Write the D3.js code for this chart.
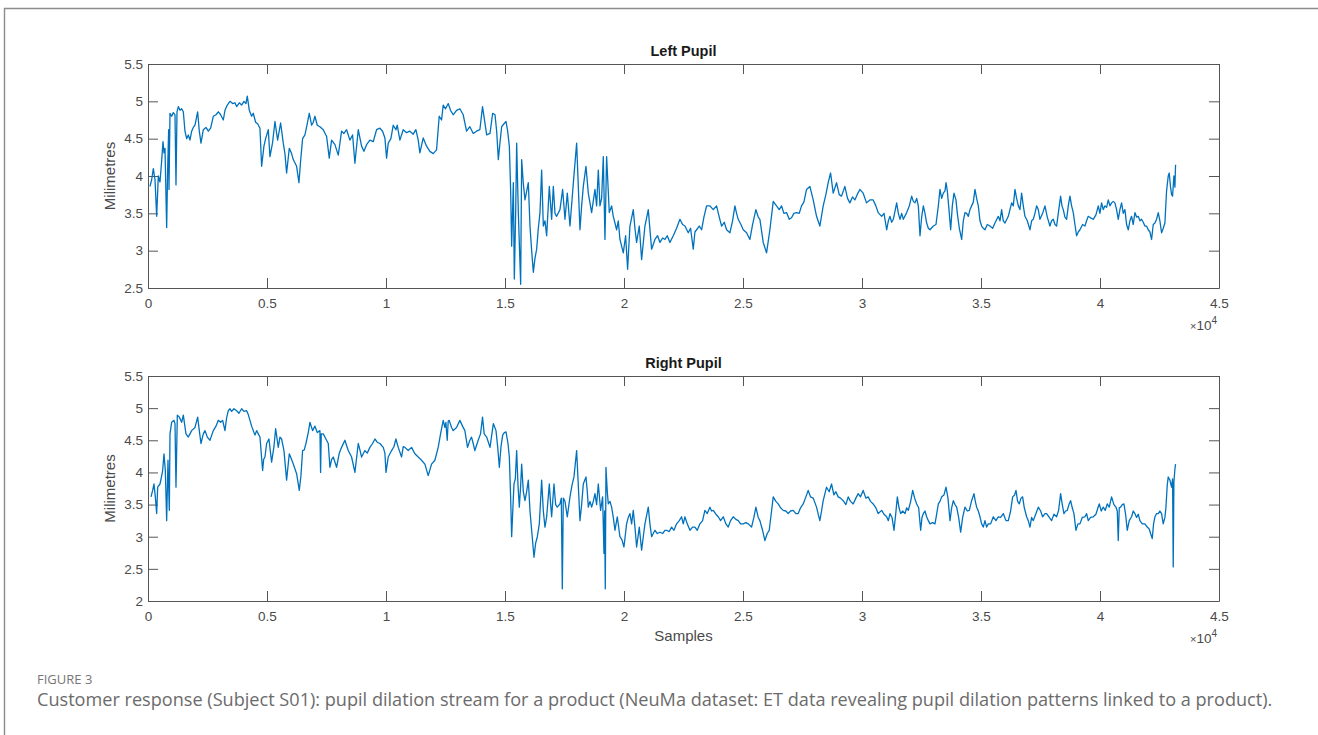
<!DOCTYPE html>
<html>
<head>
<meta charset="utf-8">
<script src="https://cdn.jsdelivr.net/npm/d3@7"></script>
<style>
body{margin:0;background:#fff;}
svg{display:block;}
</style>
</head>
<body>
<svg id="chart" width="1318" height="735"></svg>
<script>
// tick values (samples, and millimetres)
var xTicks = [0,5000,10000,15000,20000,25000,30000,35000,40000,45000];
var leftYTicks = [2.5,3,3.5,4,4.5,5,5.5];
var rightYTicks = [2,2.5,3,3.5,4,4.5,5,5.5];

// [sample, mm]
var leftPupil = [
[84,3.86],[154,3.95],[224,4.10],[294,3.95],[364,3.46],[434,4.0],[504,3.92],[574,4.2],[630,4.46],[672,4.31],
[714,4.37],[784,3.31],[826,4.1],[868,4.62],[882,3.82],[924,4.84],[994,4.8],[1064,4.85],[1134,4.82],[1176,3.88],
[1218,4.86],[1274,4.93],[1344,4.88],[1414,4.9],[1484,4.86],[1554,4.6],[1624,4.5],[1694,4.55],[1764,4.48],[1834,4.6],
[1904,4.65],[1974,4.68],[2086,4.86],[2156,4.6],[2226,4.44],[2324,4.62],[2436,4.65],[2534,4.6],[2632,4.64],[2744,4.8],
[2856,4.82],[2954,4.86],[3052,4.82],[3164,4.75],[3234,4.88],[3332,4.95],[3444,5.0],[3556,4.97],[3654,4.98],[3724,4.93],
[3836,4.98],[3934,4.95],[4032,5.0],[4116,4.97],[4172,5.07],[4256,4.88],[4354,4.8],[4424,4.84],[4522,4.72],[4606,4.7],
[4704,4.64],[4774,4.13],[4872,4.4],[4942,4.5],[5054,4.62],[5124,4.26],[5236,4.45],[5334,4.73],[5446,4.48],[5572,4.71],
[5684,4.44],[5754,4.3],[5824,4.04],[5936,4.37],[6034,4.3],[6104,4.22],[6244,4.13],[6342,3.91],[6412,4.2],[6496,4.5],
[6594,4.55],[6692,4.7],[6776,4.84],[6874,4.68],[6944,4.72],[7014,4.8],[7112,4.68],[7224,4.66],[7364,4.62],[7504,4.53],
[7616,4.24],[7714,4.48],[7854,4.42],[7994,4.28],[8134,4.6],[8232,4.57],[8344,4.62],[8484,4.48],[8596,4.55],[8694,4.17],
[8834,4.62],[8974,4.4],[9072,4.33],[9184,4.42],[9324,4.48],[9464,4.46],[9604,4.62],[9744,4.64],[9856,4.6],[9954,4.51],
[10024,4.24],[10094,4.44],[10206,4.5],[10304,4.68],[10416,4.62],[10472,4.68],[10584,4.48],[10724,4.62],[10864,4.58],[11004,4.6],
[11144,4.56],[11256,4.62],[11354,4.48],[11424,4.31],[11564,4.51],[11704,4.4],[11844,4.33],[11984,4.3],[12124,4.35],[12236,4.8],
[12334,4.75],[12404,4.95],[12502,4.9],[12614,4.97],[12712,4.88],[12824,4.82],[12964,4.88],[13104,4.9],[13244,4.82],[13384,4.6],
[13524,4.66],[13664,4.57],[13804,4.6],[13944,4.62],[14056,4.93],[14230,4.55],[14370,4.57],[14482,4.84],[14580,4.82],[14650,4.6],
[14720,4.22],[14790,4.45],[14860,4.66],[14958,4.7],[15042,4.73],[15112,4.6],[15182,4.4],[15238,3.8],[15280,3.06],[15350,3.91],
[15392,2.62],[15448,3.5],[15490,4.44],[15560,3.51],[15658,2.55],[15700,4.22],[15770,3.9],[15840,3.68],[15980,3.91],[16050,3.33],
[16120,3.0],[16190,2.71],[16260,2.9],[16330,3.02],[16400,3.3],[16470,3.51],[16540,4.08],[16610,3.33],[16680,3.4],[16750,3.2],
[16862,3.86],[16960,3.42],[17030,3.86],[17100,3.5],[17170,3.46],[17310,3.55],[17422,3.82],[17520,3.42],[17618,3.77],[17730,3.33],
[17870,3.9],[18010,4.44],[18150,3.28],[18220,3.6],[18290,3.86],[18402,4.13],[18500,3.77],[18640,3.51],[18780,3.82],[18850,3.6],
[18920,4.08],[18990,3.6],[19060,3.7],[19130,4.26],[19200,3.15],[19270,4.26],[19382,3.51],[19480,3.6],[19550,3.46],[19690,3.28],
[19760,3.4],[19830,3.15],[19970,2.97],[20068,3.2],[20152,2.75],[20250,3.33],[20390,3.55],[20460,3.3],[20530,3.11],[20642,3.33],
[20740,2.88],[20880,3.33],[21020,3.55],[21160,3.02],[21300,3.15],[21412,3.2],[21510,3.11],[21622,3.17],[21720,3.15],[21818,3.2],
[21930,3.11],[22070,3.2],[22210,3.3],[22350,3.42],[22462,3.35],[22560,3.33],[22700,3.24],[22798,3.3],[22910,3.02],[22980,3.25],
[23050,3.28],[23162,3.33],[23260,3.28],[23358,3.45],[23470,3.6],[23610,3.6],[23750,3.55],[23890,3.6],[24002,3.45],[24100,3.33],
[24212,3.38],[24310,3.28],[24450,3.24],[24562,3.4],[24660,3.6],[24730,3.5],[24800,3.42],[24912,3.35],[25010,3.28],[25150,3.24],
[25290,3.15],[25402,3.35],[25542,3.55],[25640,3.45],[25710,3.42],[25850,3.11],[25990,2.97],[26130,3.28],[26270,3.66],[26410,3.6],
[26522,3.55],[26620,3.6],[26718,3.5],[26830,3.51],[26942,3.42],[27040,3.44],[27138,3.5],[27250,3.51],[27362,3.5],[27460,3.6],
[27558,3.65],[27670,3.82],[27810,3.86],[27950,3.68],[28090,3.46],[28230,3.33],[28370,3.6],[28482,3.75],[28580,3.91],[28680,4.04],
[28790,3.77],[28930,3.91],[29042,3.75],[29140,3.73],[29280,3.86],[29392,3.7],[29490,3.64],[29602,3.72],[29700,3.68],[29798,3.75],
[29910,3.82],[30050,3.77],[30190,3.64],[30330,3.68],[30470,3.68],[30582,3.6],[30680,3.51],[30827,3.46],[30925,3.5],[31037,3.28],
[31107,3.4],[31177,3.46],[31247,3.38],[31317,3.42],[31457,3.64],[31527,3.5],[31597,3.42],[31667,3.5],[31737,3.42],[31877,3.51],
[31989,3.6],[32087,3.73],[32157,3.66],[32227,3.64],[32297,3.7],[32367,3.6],[32437,3.2],[32507,3.45],[32577,3.6],[32647,3.5],
[32717,3.37],[32787,3.3],[32857,3.28],[32997,3.33],[33109,3.35],[33207,3.6],[33277,3.82],[33347,3.7],[33417,3.77],[33487,3.8],
[33529,3.91],[33585,3.8],[33655,3.55],[33725,3.28],[33795,3.6],[33865,3.77],[33949,3.68],[34005,3.5],[34089,3.3],[34187,3.15],
[34257,3.4],[34327,3.51],[34397,3.5],[34467,3.46],[34537,3.55],[34607,3.6],[34677,3.65],[34747,3.82],[34817,3.7],[34887,3.6],
[34957,3.4],[35027,3.33],[35097,3.3],[35167,3.28],[35265,3.35],[35377,3.33],[35489,3.3],[35587,3.37],[35727,3.46],[35797,3.4],
[35867,3.55],[35937,3.4],[36007,3.37],[36147,3.46],[36217,3.55],[36287,3.64],[36357,3.6],[36427,3.82],[36497,3.7],[36567,3.6],
[36637,3.55],[36707,3.77],[36777,3.6],[36847,3.46],[36945,3.4],[37057,3.28],[37127,3.4],[37197,3.42],[37267,3.5],[37337,3.6],
[37407,3.55],[37477,3.42],[37589,3.5],[37687,3.6],[37785,3.45],[37897,3.33],[37967,3.4],[38037,3.42],[38107,3.35],[38177,3.33],
[38247,3.5],[38345,3.73],[38401,3.6],[38457,3.55],[38527,3.45],[38597,3.42],[38667,3.6],[38737,3.73],[38807,3.6],[38877,3.51],
[38947,3.35],[39017,3.2],[39087,3.25],[39157,3.28],[39269,3.35],[39367,3.33],[39437,3.4],[39507,3.46],[39605,3.44],[39717,3.42],
[39829,3.48],[39927,3.6],[39997,3.5],[40067,3.64],[40137,3.55],[40207,3.6],[40277,3.58],[40347,3.68],[40417,3.6],[40487,3.64],
[40557,3.66],[40627,3.64],[40697,3.55],[40767,3.42],[40837,3.55],[40907,3.64],[40977,3.5],[41047,3.55],[41117,3.35],[41187,3.28],
[41257,3.4],[41327,3.46],[41397,3.35],[41467,3.51],[41537,3.45],[41607,3.46],[41677,3.4],[41747,3.42],[41817,3.38],[41887,3.33],
[41957,3.33],[42027,3.28],[42097,3.25],[42167,3.15],[42237,3.35],[42307,3.37],[42377,3.42],[42447,3.51],[42517,3.4],[42587,3.24],
[42657,3.3],[42727,3.37],[42797,3.8],[42867,4.0],[42909,4.04],[42965,3.85],[43007,3.75],[43049,3.73],[43105,4.0],[43147,3.85],
[43175,4.15]
];

var rightPupil = [
[126,3.62],[196,3.72],[252,3.82],[308,3.62],[364,3.36],[406,3.77],[504,3.82],[560,3.92],[616,4.03],[672,4.29],
[728,4.03],[784,3.25],[840,4.19],[896,3.41],[924,4.6],[994,4.78],[1092,4.81],[1134,4.76],[1176,3.77],[1232,4.89],
[1316,4.86],[1414,4.78],[1484,4.89],[1596,4.6],[1694,4.55],[1764,4.6],[1834,4.65],[1974,4.7],[2086,4.86],[2156,4.65],
[2226,4.45],[2324,4.6],[2394,4.65],[2492,4.55],[2604,4.5],[2744,4.65],[2856,4.72],[2954,4.81],[3052,4.78],[3136,4.81],
[3234,4.65],[3304,4.85],[3374,4.96],[3444,4.99],[3514,4.95],[3612,4.99],[3724,4.96],[3822,4.92],[3934,4.99],[4032,4.95],
[4144,4.96],[4214,4.9],[4284,4.81],[4354,4.72],[4424,4.65],[4494,4.58],[4564,4.65],[4634,4.6],[4704,4.55],[4816,4.03],
[4858,4.2],[4914,4.24],[4984,4.45],[5082,4.52],[5194,4.16],[5292,4.4],[5362,4.68],[5474,4.39],[5544,4.55],[5614,4.52],
[5712,4.34],[5824,3.88],[5936,4.29],[6034,4.2],[6104,4.13],[6244,3.98],[6356,3.72],[6426,3.95],[6496,4.34],[6566,4.35],
[6636,4.45],[6734,4.62],[6804,4.78],[6916,4.65],[7014,4.72],[7112,4.62],[7224,4.65],[7252,4.0],[7280,4.6],[7364,4.6],
[7476,4.52],[7574,4.45],[7644,4.08],[7714,4.2],[7784,4.24],[7924,4.08],[8036,4.3],[8134,4.39],[8274,4.5],[8344,4.42],
[8414,4.34],[8554,4.24],[8694,4.0],[8834,4.45],[8904,4.35],[8974,4.24],[9114,4.34],[9212,4.3],[9324,4.39],[9436,4.45],
[9534,4.52],[9632,4.47],[9744,4.45],[9884,4.39],[9954,4.3],[10000,4.0],[10094,4.24],[10234,4.34],[10332,4.4],[10416,4.52],
[10514,4.39],[10654,4.24],[10724,4.4],[10794,4.39],[10934,4.34],[11074,4.39],[11214,4.29],[11354,4.24],[11494,4.19],[11634,4.13],
[11774,3.95],[11914,4.13],[12054,4.19],[12194,4.39],[12292,4.6],[12404,4.81],[12474,4.7],[12516,4.78],[12572,4.5],[12614,4.8],
[12656,4.81],[12754,4.7],[12824,4.65],[12964,4.7],[13104,4.81],[13216,4.72],[13314,4.65],[13426,4.39],[13524,4.5],[13594,4.55],
[13664,4.45],[13734,4.34],[13874,4.5],[13972,4.6],[14056,4.86],[14126,4.6],[14230,4.55],[14370,4.39],[14510,4.76],[14622,4.65],
[14692,4.4],[14762,4.08],[14832,4.4],[14902,4.58],[14972,4.62],[15042,4.63],[15126,4.45],[15182,4.24],[15238,3.6],[15280,3.0],
[15350,3.6],[15378,3.82],[15434,3.9],[15490,4.34],[15546,3.8],[15602,3.46],[15658,3.8],[15700,4.13],[15770,3.7],[15840,3.56],
[15910,3.7],[15980,3.88],[16050,3.4],[16120,3.1],[16218,2.68],[16288,2.9],[16358,3.0],[16442,3.2],[16540,3.88],[16610,3.4],
[16680,3.15],[16750,3.31],[16862,3.82],[16918,3.5],[16960,3.31],[17058,3.82],[17128,3.5],[17198,3.46],[17310,3.51],[17366,3.6],
[17408,2.19],[17450,3.6],[17520,3.55],[17618,3.31],[17730,3.62],[17814,3.8],[17898,3.93],[18010,4.34],[18080,3.8],[18150,3.25],
[18220,3.5],[18290,3.82],[18402,3.93],[18458,3.7],[18500,3.46],[18570,3.55],[18640,3.46],[18710,3.55],[18780,3.67],[18850,3.5],
[18920,3.82],[19018,3.41],[19102,3.62],[19158,2.74],[19186,3.4],[19214,2.19],[19242,4.08],[19298,3.7],[19340,3.51],[19410,3.55],
[19480,3.46],[19550,3.3],[19620,3.1],[19718,3.31],[19830,3.0],[19914,2.95],[19998,2.84],[20110,3.2],[20180,3.3],[20250,3.36],
[20320,3.2],[20390,3.41],[20460,3.15],[20530,2.84],[20642,3.15],[20740,2.79],[20810,3.0],[20880,3.2],[21020,3.46],[21090,3.2],
[21160,3.0],[21230,3.05],[21300,3.1],[21398,3.05],[21510,3.07],[21622,3.05],[21720,3.1],[21790,3.1],[21902,3.08],[22000,3.15],
[22098,3.1],[22210,3.2],[22322,3.25],[22420,3.31],[22490,3.2],[22560,3.31],[22658,3.2],[22770,3.1],[22882,3.15],[22980,3.15],
[23078,3.1],[23190,3.2],[23302,3.25],[23400,3.41],[23498,3.36],[23610,3.46],[23680,3.4],[23750,3.41],[23862,3.35],[23960,3.31],
[24058,3.25],[24170,3.31],[24282,3.2],[24380,3.15],[24478,3.25],[24590,3.31],[24702,3.27],[24800,3.25],[24898,3.2],[25010,3.2],
[25122,3.22],[25220,3.2],[25360,3.15],[25458,3.3],[25542,3.46],[25640,3.3],[25710,3.25],[25822,3.1],[25920,2.94],[26018,3.05],
[26102,3.1],[26200,3.4],[26270,3.62],[26382,3.55],[26480,3.51],[26578,3.45],[26690,3.41],[26802,3.4],[26900,3.36],[26998,3.4],
[27110,3.41],[27222,3.36],[27320,3.36],[27418,3.45],[27530,3.51],[27642,3.62],[27740,3.72],[27838,3.62],[27950,3.6],[28090,3.46],
[28160,3.35],[28230,3.25],[28300,3.4],[28370,3.56],[28510,3.77],[28622,3.7],[28720,3.82],[28818,3.65],[28902,3.7],[29000,3.62],
[29098,3.6],[29210,3.56],[29322,3.5],[29420,3.62],[29518,3.55],[29630,3.51],[29742,3.6],[29840,3.67],[29938,3.62],[30050,3.72],
[30162,3.6],[30260,3.62],[30358,3.55],[30470,3.51],[30582,3.45],[30680,3.36],[30827,3.41],[30925,3.35],[31037,3.31],[31107,3.25],
[31177,3.36],[31261,3.3],[31345,3.1],[31415,3.35],[31485,3.62],[31555,3.45],[31625,3.36],[31709,3.4],[31807,3.36],[31877,3.45],
[31947,3.41],[32045,3.55],[32129,3.72],[32213,3.6],[32297,3.51],[32381,3.45],[32465,3.1],[32521,3.3],[32577,3.36],[32647,3.4],
[32717,3.31],[32787,3.25],[32857,3.2],[32969,3.22],[33067,3.2],[33137,3.35],[33207,3.51],[33277,3.55],[33347,3.62],[33445,3.65],
[33529,3.77],[33613,3.6],[33697,3.25],[33767,3.45],[33837,3.56],[33907,3.5],[33977,3.46],[34061,3.3],[34145,3.07],[34229,3.3],
[34327,3.46],[34425,3.4],[34509,3.41],[34607,3.56],[34705,3.67],[34761,3.55],[34817,3.46],[34887,3.4],[34957,3.31],[35027,3.2],
[35097,3.15],[35167,3.25],[35237,3.15],[35307,3.2],[35405,3.2],[35517,3.31],[35629,3.25],[35727,3.31],[35825,3.3],[35937,3.36],
[36049,3.25],[36147,3.25],[36245,3.4],[36329,3.62],[36413,3.65],[36469,3.72],[36539,3.55],[36609,3.51],[36679,3.6],[36749,3.62],
[36819,3.45],[36917,3.31],[36987,3.25],[37057,3.15],[37127,3.3],[37197,3.25],[37309,3.36],[37407,3.46],[37505,3.4],[37589,3.31],
[37687,3.36],[37757,3.36],[37869,3.3],[37967,3.25],[38065,3.35],[38177,3.31],[38261,3.41],[38345,3.67],[38415,3.5],[38485,3.36],
[38555,3.4],[38625,3.41],[38695,3.5],[38765,3.56],[38835,3.45],[38905,3.36],[38989,3.1],[39073,3.2],[39157,3.2],[39255,3.3],
[39367,3.31],[39437,3.36],[39507,3.25],[39605,3.3],[39717,3.31],[39829,3.35],[39913,3.45],[39969,3.51],[40053,3.4],[40137,3.46],
[40221,3.41],[40305,3.51],[40389,3.46],[40487,3.62],[40585,3.5],[40669,3.46],[40725,3.4],[40767,2.94],[40809,3.45],[40865,3.46],
[40935,3.5],[41005,3.51],[41075,3.35],[41145,3.1],[41229,3.25],[41327,3.31],[41397,3.4],[41467,3.36],[41537,3.3],[41607,3.35],
[41677,3.25],[41775,3.2],[41887,3.2],[41985,3.15],[42069,3.12],[42125,3.05],[42195,2.97],[42251,3.2],[42307,3.31],[42377,3.36],
[42447,3.36],[42517,3.4],[42587,3.36],[42657,3.2],[42727,3.3],[42769,3.45],[42825,3.8],[42867,3.93],[42937,3.88],[43007,3.77],
[43049,3.9],[43077,2.53],[43105,3.85],[43147,4.05],[43175,4.13]
];

var svg = d3.select('#chart');
var axisColor = '#555';
var textColor = '#4a4a4a';
var lineColor = '#0072BD';
var sans = '"Liberation Sans", Arial, Helvetica, sans-serif';

// page frame
svg.append('path').attr('d','M4.5,735V8.5H1318').attr('fill','none').attr('stroke','#8c8c8c').attr('stroke-width',1.4);

var plotLeft = 148, plotRight = 1219;
var x = d3.scaleLinear().domain([0,45000]).range([plotLeft,plotRight]);

function styleAxis(g){
    g.select('.domain').attr('stroke',axisColor).attr('stroke-width',1);
    g.selectAll('.tick line').attr('stroke',axisColor).attr('stroke-width',1);
    g.selectAll('.tick text').attr('fill',textColor).attr('font-size','13.5px').attr('font-family',sans);
}

function drawPanel(top, bottom, yDomain, yTicks, data, title, showSamples){
    var y = d3.scaleLinear().domain(yDomain).range([bottom,top]);
    var g = svg.append('g');

    g.append('g').attr('transform','translate(0,'+bottom+')')
        .call(d3.axisBottom(x).tickValues(xTicks).tickSizeInner(-10).tickSizeOuter(0).tickPadding(10).tickFormat(function(d){return d/1e4;}))
        .call(styleAxis);
    g.append('g').attr('transform','translate(0,'+top+')')
        .call(d3.axisTop(x).tickValues(xTicks).tickSizeInner(-10).tickSizeOuter(0).tickFormat(''))
        .call(styleAxis);
    g.append('g').attr('transform','translate('+plotLeft+',0)')
        .call(d3.axisLeft(y).tickValues(yTicks).tickSizeInner(-10).tickSizeOuter(0).tickPadding(5).tickFormat(function(d){return String(d);}))
        .call(styleAxis);
    g.append('g').attr('transform','translate('+plotRight+',0)')
        .call(d3.axisRight(y).tickValues(yTicks).tickSizeInner(-10).tickSizeOuter(0).tickFormat(''))
        .call(styleAxis);

    var line = d3.line().x(function(d){return x(d[0]);}).y(function(d){return y(d[1]);});
    g.append('path').datum(data).attr('d',line).attr('fill','none')
        .attr('stroke',lineColor).attr('stroke-width',1.3).attr('stroke-linejoin','round');

    g.append('text').text(title).attr('x',(plotLeft+plotRight)/2).attr('y',top-8)
        .attr('text-anchor','middle').attr('font-family',sans).attr('font-weight','bold')
        .attr('font-size','14.5px').attr('fill','#1a1a1a');

    g.append('text').text('Milimetres')
        .attr('transform','translate(115,'+((top+bottom)/2)+') rotate(-90)')
        .attr('text-anchor','middle').attr('font-family',sans).attr('font-size','15px').attr('fill',textColor);

    var mult = g.append('text').attr('x',plotRight-2).attr('y',bottom+42).attr('text-anchor','end')
        .attr('font-family',sans).attr('font-size','13.5px').attr('fill',textColor);
    mult.append('tspan').text('\u00d7').attr('font-size','11px');
    mult.append('tspan').text('10');
    mult.append('tspan').text('4').attr('font-size','10px').attr('dy','-6');

    if (showSamples){
        g.append('text').text('Samples').attr('x',(plotLeft+plotRight)/2).attr('y',bottom+40)
            .attr('text-anchor','middle').attr('font-family',sans).attr('font-size','15px').attr('fill',textColor);
    }
}

drawPanel(64, 288, [2.5,5.5], leftYTicks, leftPupil, 'Left Pupil', false);
drawPanel(376, 601, [2,5.5], rightYTicks, rightPupil, 'Right Pupil', true);

// caption
svg.append('text').text('FIGURE 3').attr('x',37).attr('y',684)
    .attr('font-family','"Open Sans", Lato, sans-serif').attr('font-size','13px').attr('fill','#767676');
var cap = svg.append('text').text('Customer response (Subject S01): pupil dilation stream for a product (NeuMa dataset: ET data revealing pupil dilation patterns linked to a product).')
    .attr('x',37).attr('y',706).attr('font-family','"Open Sans", Lato, sans-serif').attr('font-size','16px').attr('fill','#6b6b6b');
var capW = cap.node().getComputedTextLength();
cap.attr('font-size', (16*1236/capW).toFixed(2)+'px');
</script>
</body>
</html>
